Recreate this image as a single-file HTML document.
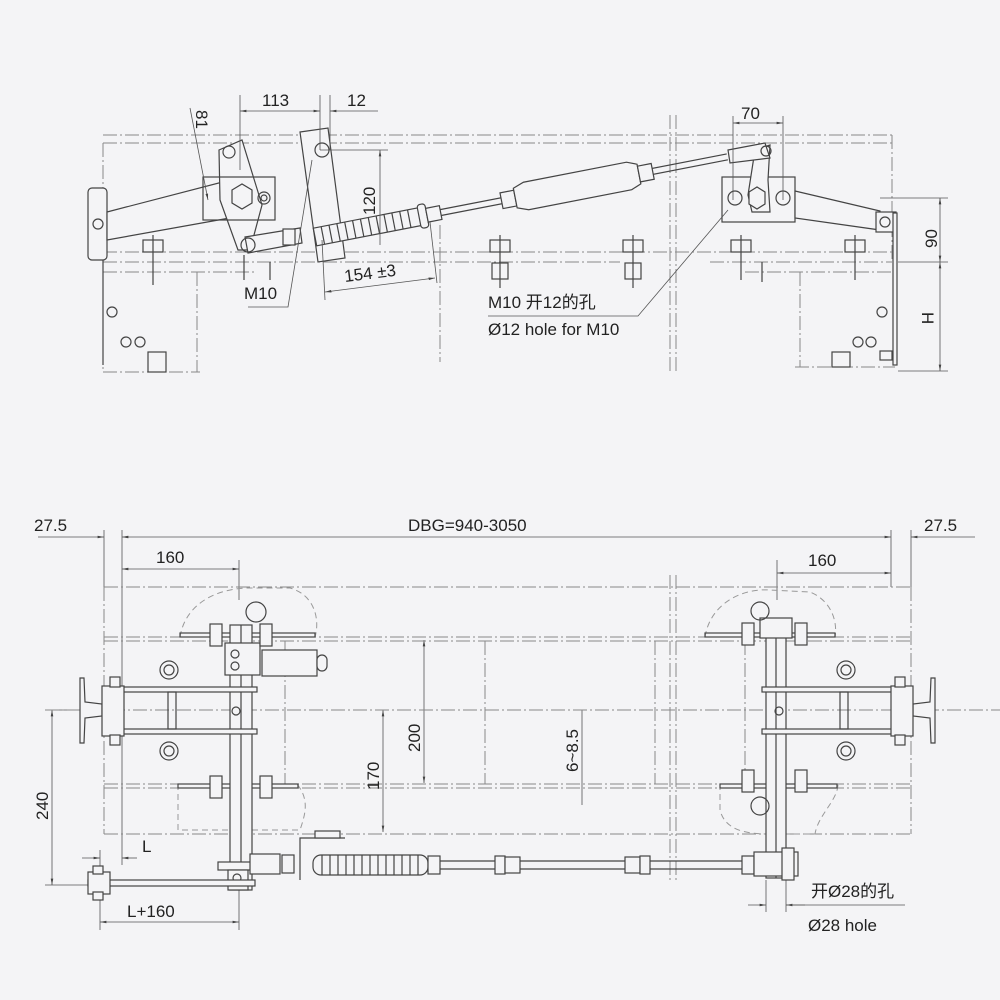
<!DOCTYPE html>
<html><head><meta charset="utf-8"><style>
html,body{margin:0;padding:0;background:#f4f4f6;}
svg{display:block}
text{font-family:"Liberation Sans","Noto Sans CJK SC",sans-serif;fill:#222;font-size:17px}
.l{stroke:#444;stroke-width:1.2;fill:none}
.p{stroke:#444;stroke-width:1.2;fill:#f4f4f6}
.d{stroke:#888;stroke-width:1;fill:none;stroke-dasharray:14 3 2 3}
.dd{stroke:#999;stroke-width:1;fill:none;stroke-dasharray:6 4}
.t{stroke:#555;stroke-width:0.8;fill:none}
</style></head><body>
<svg width="1000" height="1000" viewBox="0 0 1000 1000" xmlns="http://www.w3.org/2000/svg">
<defs>
<marker id="a" viewBox="0 0 10 10" refX="10" refY="5" markerWidth="8" markerHeight="8" orient="auto-start-reverse"><path d="M0,3L10,5L0,7z" fill="#444"/></marker>
</defs>

<!-- ============ TOP VIEW ============ -->
<g>
<line class="d" x1="103" y1="135" x2="892" y2="135"/>
<line class="d" x1="103" y1="143" x2="892" y2="143"/>
<line class="d" x1="892" y1="135" x2="892" y2="262"/>
<line class="d" x1="103" y1="143" x2="103" y2="188"/>
<line class="d" x1="103" y1="252" x2="892" y2="252"/>
<line class="d" x1="103" y1="262" x2="620" y2="262"/>
<line class="d" x1="710" y1="262" x2="892" y2="262"/>
<line class="d" x1="103" y1="272" x2="255" y2="272"/>
<line class="d" x1="745" y1="272" x2="892" y2="272"/>
<line class="d" x1="103" y1="262" x2="103" y2="372"/>
<line class="d" x1="103" y1="372" x2="200" y2="372"/>
<line class="d" x1="197" y1="272" x2="197" y2="372"/>
<line class="d" x1="795" y1="367" x2="895" y2="367"/>
<line class="d" x1="800" y1="272" x2="800" y2="367"/>
<line class="d" x1="670" y1="115" x2="670" y2="372"/>
<line class="d" x1="676" y1="115" x2="676" y2="372"/>
<line class="d" x1="440" y1="225" x2="440" y2="362"/>
<line class="d" x1="100" y1="225" x2="240" y2="197"/>
<g class="l">
<rect x="143" y="240" width="20" height="12"/><line x1="153" y1="235" x2="153" y2="285"/>
<rect x="490" y="240" width="20" height="12"/><rect x="492" y="263" width="16" height="16"/><line x1="500" y1="235" x2="500" y2="288"/>
<rect x="623" y="240" width="20" height="12"/><rect x="625" y="263" width="16" height="16"/><line x1="633" y1="235" x2="633" y2="288"/>
<rect x="731" y="240" width="20" height="12"/><line x1="741" y1="235" x2="741" y2="280"/>
<rect x="845" y="240" width="20" height="12"/><line x1="855" y1="235" x2="855" y2="280"/>
<line x1="270" y1="262" x2="270" y2="280"/><line x1="244" y1="255" x2="244" y2="280"/>
<line x1="762" y1="262" x2="762" y2="282"/>
</g>
<rect class="p" x="88" y="188" width="19" height="72" rx="4"/>
<polygon class="p" points="107,212 238,178 252,214 107,240"/>
<polygon class="p" points="219,150 242,140 262,205 250,250 238,250 220,200"/>
<rect class="l" x="203" y="177" width="72" height="43"/>
<polygon class="p" points="232,190 242,184 252,190 252,203 242,209 232,203"/>
<circle class="l" cx="229" cy="152" r="6"/>
<circle class="l" cx="264" cy="198" r="6"/><circle class="l" cx="264" cy="198" r="3"/>
<circle class="l" cx="98" cy="224" r="5"/>
<polygon class="p" points="245,237 300,228 302,243 248,253"/>
<circle class="l" cx="248" cy="245" r="7"/>
<rect class="p" x="283" y="229" width="12" height="16"/>
<line class="l" x1="103" y1="260" x2="103" y2="365"/>
<circle class="l" cx="112" cy="312" r="5"/>
<circle class="l" cx="126" cy="342" r="5"/><circle class="l" cx="140" cy="342" r="5"/>
<rect class="l" x="148" y="352" width="18" height="20"/>
<polygon class="p" points="300,132 328,128 345,258 318,262"/>
<circle class="l" cx="322" cy="150" r="7"/>
<g transform="translate(315,237) rotate(-11)">
<rect class="p" x="0" y="-9" width="110" height="18"/>
<g class="l">
<line x1="8" y1="-9" x2="8" y2="9"/><line x1="16" y1="-9" x2="16" y2="9"/><line x1="24" y1="-9" x2="24" y2="9"/>
<line x1="32" y1="-9" x2="32" y2="9"/><line x1="40" y1="-9" x2="40" y2="9"/><line x1="48" y1="-9" x2="48" y2="9"/>
<line x1="56" y1="-9" x2="56" y2="9"/><line x1="64" y1="-9" x2="64" y2="9"/><line x1="72" y1="-9" x2="72" y2="9"/>
<line x1="80" y1="-9" x2="80" y2="9"/><line x1="88" y1="-9" x2="88" y2="9"/><line x1="96" y1="-9" x2="96" y2="9"/>
</g>
<rect class="p" x="106" y="-12" width="8" height="24" rx="3"/>
<rect class="p" x="114" y="-7" width="14" height="14"/>
<line class="l" x1="128" y1="-3" x2="420" y2="-3"/><line class="l" x1="128" y1="3" x2="420" y2="3"/>
<rect class="p" x="190" y="-8" width="14" height="16"/>
<polygon class="p" points="204,-10 215,-14 320,-14 330,-10 330,10 320,14 215,14 204,10"/>
<rect class="p" x="330" y="-8" width="14" height="16"/>
</g>
<rect class="p" x="722" y="177" width="73" height="45"/>
<polygon class="p" points="755,150 770,145 768,180 770,212 752,212 748,195"/>
<circle class="l" cx="735" cy="198" r="7"/><circle class="l" cx="783" cy="198" r="7"/>
<polygon class="p" points="749,192 757,187 765,192 765,204 757,209 749,204"/>
<polygon class="p" points="728,150 765,143 770,158 730,163"/>
<circle class="l" cx="766" cy="151" r="5"/>
<polygon class="p" points="795,191 880,211 880,230 795,218"/>
<rect class="p" x="876" y="212" width="20" height="20"/>
<circle class="l" cx="885" cy="222" r="5"/>
<rect class="p" x="893" y="213" width="4" height="152"/>
<circle class="l" cx="882" cy="312" r="5"/>
<circle class="l" cx="858" cy="342" r="5"/><circle class="l" cx="871" cy="342" r="5"/>
<rect class="l" x="880" y="351" width="12" height="9"/>
<rect class="l" x="832" y="352" width="18" height="15"/>
<g class="t">
<line x1="240" y1="95" x2="240" y2="170"/>
<line x1="320" y1="95" x2="320" y2="150"/>
<line x1="330" y1="95" x2="330" y2="150"/>
<line x1="240" y1="111" x2="320" y2="111" marker-start="url(#a)" marker-end="url(#a)"/>
<line x1="330" y1="111" x2="378" y2="111" marker-start="url(#a)"/>
<line x1="190" y1="108" x2="208" y2="200" marker-end="url(#a)"/>
<line x1="320" y1="150" x2="388" y2="150"/>
<line x1="380" y1="150" x2="380" y2="245" marker-start="url(#a)"/>
<line x1="322" y1="240" x2="325" y2="300"/>
<line x1="430" y1="222" x2="437" y2="283"/>
<line x1="325" y1="292" x2="435" y2="278" marker-start="url(#a)" marker-end="url(#a)"/>
<polyline points="248,307 288,307 312,160"/>
<line x1="733" y1="116" x2="733" y2="200"/>
<line x1="783" y1="116" x2="783" y2="200"/>
<line x1="733" y1="123" x2="783" y2="123" marker-start="url(#a)" marker-end="url(#a)"/>
<polyline points="488,316 638,316 728,210"/>
<line x1="880" y1="198" x2="948" y2="198"/>
<line x1="898" y1="262" x2="948" y2="262"/>
<line x1="898" y1="371" x2="948" y2="371"/>
<line x1="940" y1="198" x2="940" y2="262" marker-start="url(#a)" marker-end="url(#a)"/>
<line x1="940" y1="262" x2="940" y2="371" marker-start="url(#a)" marker-end="url(#a)"/>
</g>
<text x="262" y="106">113</text>
<text x="347" y="106">12</text>
<text x="0" y="0" transform="translate(196,110) rotate(90)">81</text>
<text x="0" y="0" transform="translate(375,215) rotate(-90)">120</text>
<text x="0" y="0" transform="translate(345,282) rotate(-7)">154 ±3</text>
<text x="244" y="299">M10</text>
<text x="488" y="308">M10 开12的孔</text>
<text x="488" y="335">Ø12 hole for M10</text>
<text x="741" y="119">70</text>
<text x="0" y="0" transform="translate(937,248) rotate(-90)">90</text>
<text x="0" y="0" transform="translate(922,312) rotate(90)" fill="#777">H</text>
</g>

<!-- ============ BOTTOM VIEW ============ -->
<g>
<g class="t">
<line x1="104" y1="530" x2="104" y2="587"/>
<line x1="122" y1="530" x2="122" y2="865"/>
<line x1="891" y1="530" x2="891" y2="587"/>
<line x1="911" y1="530" x2="911" y2="587"/>
<line x1="38" y1="537" x2="104" y2="537" marker-end="url(#a)"/>
<line x1="122" y1="537" x2="891" y2="537" marker-start="url(#a)" marker-end="url(#a)"/>
<line x1="911" y1="537" x2="975" y2="537" marker-start="url(#a)"/>
<line x1="239" y1="560" x2="239" y2="600"/>
<line x1="122" y1="569" x2="239" y2="569" marker-start="url(#a)" marker-end="url(#a)"/>
<line x1="777" y1="560" x2="777" y2="600"/>
<line x1="777" y1="573" x2="891" y2="573" marker-start="url(#a)" marker-end="url(#a)"/>
<line x1="45" y1="710" x2="105" y2="710"/>
<line x1="45" y1="885" x2="90" y2="885"/>
<line x1="52" y1="710" x2="52" y2="885" marker-start="url(#a)" marker-end="url(#a)"/>
<line x1="383" y1="710" x2="383" y2="832" marker-start="url(#a)" marker-end="url(#a)"/>
<line x1="424" y1="640" x2="424" y2="783" marker-start="url(#a)" marker-end="url(#a)"/>
<line x1="582" y1="710" x2="582" y2="805"/>
<line x1="82" y1="858" x2="100" y2="858" marker-end="url(#a)"/>
<line x1="137" y1="858" x2="122" y2="858" marker-end="url(#a)"/>
<line x1="100" y1="850" x2="100" y2="930"/>
<line x1="239" y1="890" x2="239" y2="930"/>
<line x1="100" y1="922" x2="239" y2="922" marker-start="url(#a)" marker-end="url(#a)"/>
<line x1="766" y1="880" x2="766" y2="912"/>
<line x1="786" y1="880" x2="786" y2="912"/>
<line x1="748" y1="905" x2="766" y2="905" marker-end="url(#a)"/>
<line x1="805" y1="905" x2="786" y2="905" marker-end="url(#a)"/>
<line x1="786" y1="905" x2="905" y2="905"/>
</g>
<line class="d" x1="104" y1="587" x2="911" y2="587"/>
<line class="d" x1="104" y1="637" x2="911" y2="637"/>
<line class="d" x1="104" y1="641" x2="911" y2="641"/>
<line class="d" x1="104" y1="784" x2="911" y2="784"/>
<line class="d" x1="104" y1="788" x2="911" y2="788"/>
<line class="d" x1="104" y1="834" x2="911" y2="834"/>
<line class="d" x1="104" y1="587" x2="104" y2="834"/>
<line class="d" x1="911" y1="587" x2="911" y2="834"/>
<line class="d" x1="45" y1="710" x2="1000" y2="710"/>
<line class="d" x1="670" y1="575" x2="670" y2="880"/>
<line class="d" x1="676" y1="575" x2="676" y2="880"/>
<line class="d" x1="285" y1="641" x2="285" y2="784"/>
<line class="d" x1="485" y1="641" x2="485" y2="784"/>
<line class="d" x1="655" y1="641" x2="655" y2="784"/>
<line class="d" x1="745" y1="641" x2="745" y2="784"/>
<path class="dd" d="M180,637 C185,605 215,588 250,588 L290,588 C315,595 320,620 315,637"/>
<path class="dd" d="M178,784 L178,830 L300,830 C305,815 310,800 297,784"/>
<path class="dd" d="M705,637 C710,605 740,588 770,590 L810,592 C830,600 838,620 835,637"/>
<path class="dd" d="M720,784 L720,810 C725,830 745,834 770,834 L815,834 C818,815 838,800 838,784"/>
<rect class="l" x="180" y="633" width="135" height="4"/>
<rect class="l" x="178" y="784" width="120" height="4"/>
<rect class="l" x="705" y="633" width="130" height="4"/>
<rect class="l" x="720" y="784" width="117" height="4"/>
<g>
<rect class="p" x="230" y="625" width="22" height="265"/>
<line class="l" x1="241" y1="625" x2="241" y2="890"/>
<rect class="p" x="225" y="643" width="35" height="32"/>
<circle class="l" cx="235" cy="654" r="4"/><circle class="l" cx="235" cy="666" r="4"/>
<rect class="p" x="262" y="650" width="55" height="26"/>
<rect class="p" x="317" y="655" width="10" height="16" rx="5"/>
<rect class="p" x="210" y="624" width="12" height="22"/><rect class="p" x="260" y="624" width="12" height="22"/>
<rect class="p" x="210" y="776" width="12" height="22"/><rect class="p" x="260" y="776" width="12" height="22"/>
<circle class="l" cx="256" cy="612" r="10"/>
<circle class="l" cx="169" cy="670" r="9"/><circle class="l" cx="169" cy="670" r="5"/>
<circle class="l" cx="169" cy="751" r="9"/><circle class="l" cx="169" cy="751" r="5"/>
<rect class="p" x="105" y="687" width="152" height="5"/>
<rect class="p" x="105" y="729" width="152" height="5"/>
<rect class="l" x="168" y="692" width="8" height="37"/>
<circle class="l" cx="236" cy="711" r="4"/>
<path class="p" d="M80,678 L84,678 L85,702 L102,704 L102,716 L85,718 L84,743 L80,743 Z"/>
<rect class="p" x="102" y="686" width="22" height="50"/>
<rect class="p" x="110" y="677" width="10" height="10"/><rect class="p" x="110" y="735" width="10" height="10"/>
<rect class="p" x="218" y="862" width="38" height="8"/>
<rect class="p" x="228" y="870" width="20" height="20"/>
<circle class="l" cx="237" cy="878" r="4"/>
<rect class="p" x="88" y="880" width="167" height="6"/>
<rect class="p" x="88" y="872" width="22" height="22"/>
<rect class="p" x="93" y="866" width="10" height="8"/><rect class="p" x="93" y="892" width="10" height="8"/>
<rect class="p" x="250" y="854" width="30" height="20"/>
<rect class="p" x="282" y="855" width="12" height="18"/>
<path class="l" d="M300,880 L300,838 L345,838"/>
<rect class="p" x="315" y="831" width="25" height="7"/>
</g>
<rect class="p" x="313" y="855" width="115" height="20" rx="8"/>
<g class="l">
<line x1="322" y1="855" x2="322" y2="875"/><line x1="330" y1="855" x2="330" y2="875"/><line x1="338" y1="855" x2="338" y2="875"/>
<line x1="346" y1="855" x2="346" y2="875"/><line x1="354" y1="855" x2="354" y2="875"/><line x1="362" y1="855" x2="362" y2="875"/>
<line x1="370" y1="855" x2="370" y2="875"/><line x1="378" y1="855" x2="378" y2="875"/><line x1="386" y1="855" x2="386" y2="875"/>
<line x1="394" y1="855" x2="394" y2="875"/><line x1="402" y1="855" x2="402" y2="875"/><line x1="410" y1="855" x2="410" y2="875"/>
<line x1="418" y1="855" x2="418" y2="875"/>
</g>
<rect class="p" x="428" y="856" width="12" height="18"/>
<line class="l" x1="440" y1="861" x2="770" y2="861"/><line class="l" x1="440" y1="869" x2="770" y2="869"/>
<rect class="p" x="495" y="856" width="10" height="18"/><rect class="p" x="505" y="857" width="15" height="16"/>
<rect class="p" x="625" y="857" width="15" height="16"/><rect class="p" x="640" y="856" width="10" height="18"/>
<rect class="p" x="742" y="856" width="12" height="18"/>
<g>
<rect class="p" x="766" y="620" width="20" height="258"/>
<line class="l" x1="776" y1="620" x2="776" y2="878"/>
<rect class="p" x="760" y="618" width="32" height="20"/>
<rect class="p" x="742" y="623" width="12" height="22"/><rect class="p" x="795" y="623" width="12" height="22"/>
<rect class="p" x="742" y="770" width="12" height="22"/><rect class="p" x="795" y="770" width="12" height="22"/>
<circle class="l" cx="760" cy="611" r="9"/>
<circle class="l" cx="760" cy="806" r="9"/>
<circle class="l" cx="846" cy="670" r="9"/><circle class="l" cx="846" cy="670" r="5"/>
<circle class="l" cx="846" cy="751" r="9"/><circle class="l" cx="846" cy="751" r="5"/>
<rect class="p" x="762" y="687" width="150" height="5"/>
<rect class="p" x="762" y="729" width="150" height="5"/>
<rect class="l" x="840" y="692" width="8" height="37"/>
<circle class="l" cx="779" cy="711" r="4"/>
<path class="p" d="M935,678 L931,678 L930,702 L913,704 L913,716 L930,718 L931,743 L935,743 Z"/>
<rect class="p" x="891" y="686" width="22" height="50"/>
<rect class="p" x="895" y="677" width="10" height="10"/><rect class="p" x="895" y="735" width="10" height="10"/>
<rect class="p" x="754" y="852" width="44" height="24"/>
<rect class="p" x="782" y="848" width="12" height="32"/>
</g>
<text x="408" y="531">DBG=940-3050</text>
<text x="34" y="531">27.5</text>
<text x="924" y="531">27.5</text>
<text x="156" y="563">160</text>
<text x="808" y="566">160</text>
<text x="0" y="0" transform="translate(48,820) rotate(-90)">240</text>
<text x="0" y="0" transform="translate(379,790) rotate(-90)">170</text>
<text x="0" y="0" transform="translate(420,752) rotate(-90)">200</text>
<text x="0" y="0" transform="translate(578,772) rotate(-90)">6~8.5</text>
<text x="142" y="852" fill="#999">L</text>
<text x="127" y="917">L+160</text>
<text x="811" y="897">开Ø28的孔</text>
<text x="808" y="931">Ø28 hole</text>
</g>
</svg>
</body></html>
